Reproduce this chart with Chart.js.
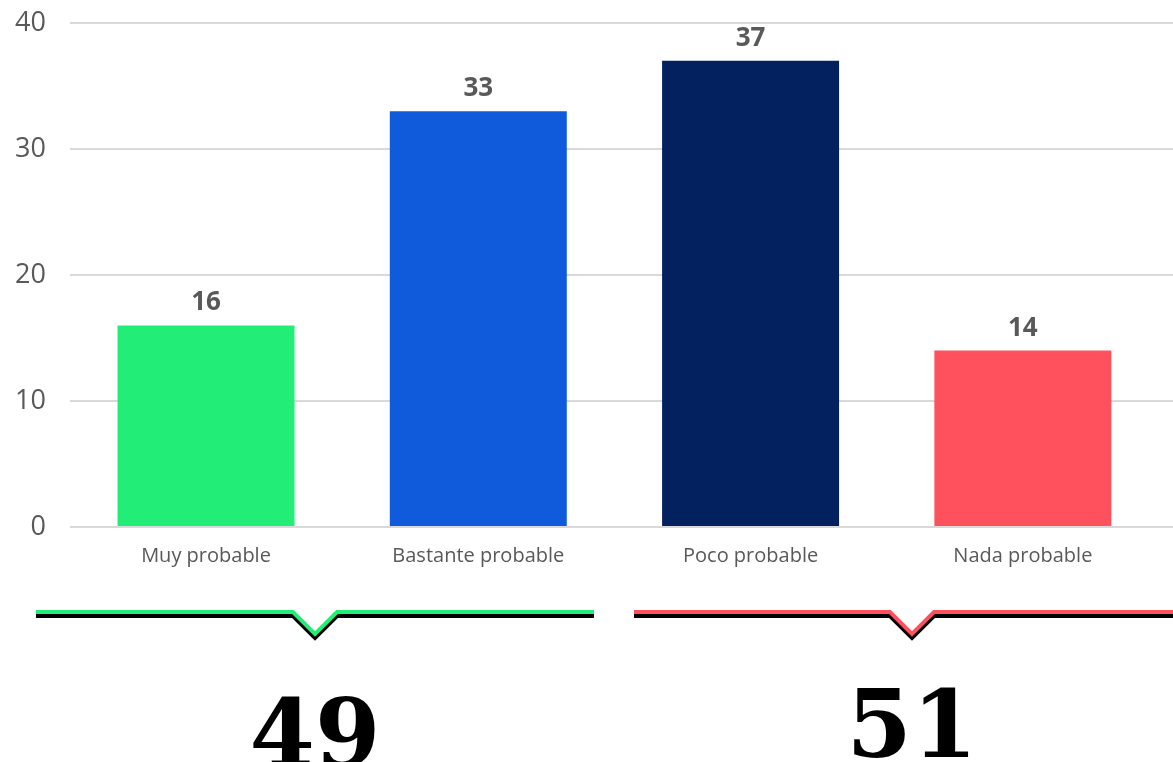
<!DOCTYPE html>
<html>
<head>
<meta charset="utf-8">
<script src="https://cdn.jsdelivr.net/npm/chart.js@4"></script>
<style>
  body { margin: 0; background: #fff; }
  #wrap { width: 1173px; height: 762px; position: relative; }
</style>
</head>
<body>
<div id="wrap"><canvas id="chart"></canvas></div>
<script>
var categories = ['Muy probable', 'Bastante probable', 'Poco probable', 'Nada probable'];
var values = [16, 33, 37, 14];
var barColors = ['#22EE77', '#0F5BDC', '#03215F', '#FF515D'];
var yTicks = [0, 10, 20, 30, 40];

// gridlines run on to the right edge of the page
var gridTail = {
  id: 'gridTail',
  beforeDatasetsDraw: function(chart) {
    var ctx = chart.ctx;
    var y = chart.scales.y;
    ctx.save();
    ctx.strokeStyle = '#d9d9d9';
    ctx.lineWidth = 2;
    yTicks.forEach(function(v) {
      var py = y.getPixelForValue(v);
      ctx.beginPath();
      ctx.moveTo(chart.chartArea.right, py);
      ctx.lineTo(chart.width, py);
      ctx.stroke();
    });
    ctx.restore();
  }
};

// values on top of the bars
var valueLabels = {
  id: 'valueLabels',
  afterDatasetsDraw: function(chart) {
    var ctx = chart.ctx;
    var meta = chart.getDatasetMeta(0);
    ctx.save();
    ctx.font = 'bold 26px "Open Sans"';
    ctx.fillStyle = '#595959';
    ctx.textAlign = 'center';
    ctx.textBaseline = 'alphabetic';
    meta.data.forEach(function(bar, i) {
      ctx.fillText(values[i], bar.x, bar.y - 15);
    });
    ctx.restore();
  }
};

// brackets with the totals of each pair
var totals = {
  id: 'totals',
  afterDraw: function(chart) {
    var ctx = chart.ctx;
    var groups = [
      { from: 36, to: 594, tip: 315, color: barColors[0], sum: values[0] + values[1], base: 766 },
      { from: 634, to: 1173, tip: 912, color: barColors[3], sum: values[2] + values[3], base: 757 }
    ];
    var y = 612;
    groups.forEach(function(g) {
      var pts = [[g.from, y], [g.tip - 22, y], [g.tip, y + 22], [g.tip + 22, y], [g.to, y]];
      ctx.save();
      ctx.lineJoin = 'miter';
      ctx.lineWidth = 4;
      ctx.strokeStyle = '#000';
      ctx.beginPath();
      pts.forEach(function(p, i) {
        if (i === 0) ctx.moveTo(p[0], p[1] + 4); else ctx.lineTo(p[0], p[1] + 4);
      });
      ctx.stroke();
      ctx.strokeStyle = g.color;
      ctx.beginPath();
      pts.forEach(function(p, i) {
        if (i === 0) ctx.moveTo(p[0], p[1]); else ctx.lineTo(p[0], p[1]);
      });
      ctx.stroke();
      ctx.fillStyle = '#000';
      ctx.font = 'bold 94px "DejaVu Serif"';
      ctx.textAlign = 'center';
      ctx.textBaseline = 'alphabetic';
      ctx.fillText(g.sum, g.tip, g.base);
      ctx.restore();
    });
  }
};

new Chart(document.getElementById('chart'), {
  type: 'bar',
  data: {
    labels: categories,
    datasets: [{
      data: values,
      backgroundColor: barColors,
      borderWidth: 0,
      barPercentage: 0.65,
      categoryPercentage: 1
    }]
  },
  options: {
    responsive: true,
    maintainAspectRatio: false,
    animation: false,
    layout: { padding: { top: 23, left: -9, right: 14, bottom: 185 } },
    plugins: { legend: { display: false }, tooltip: { enabled: false } },
    scales: {
      x: {
        grid: { display: false },
        border: { display: false },
        ticks: {
          color: '#595959',
          font: { family: 'Open Sans', size: 20 },
          padding: 9
        }
      },
      y: {
        min: 0,
        max: 40,
        afterBuildTicks: function(scale) {
          scale.ticks = yTicks.map(function(v) { return { value: v }; });
        },
        afterFit: function(scale) {
          scale.paddingTop = 0;
          scale.paddingBottom = 0;
        },
        grid: { color: '#d9d9d9', lineWidth: 2, drawTicks: false },
        border: { display: false },
        ticks: {
          color: '#595959',
          font: { family: 'Open Sans', size: 27 },
          padding: 24
        }
      }
    }
  },
  plugins: [gridTail, valueLabels, totals]
});
</script>
</body>
</html>
